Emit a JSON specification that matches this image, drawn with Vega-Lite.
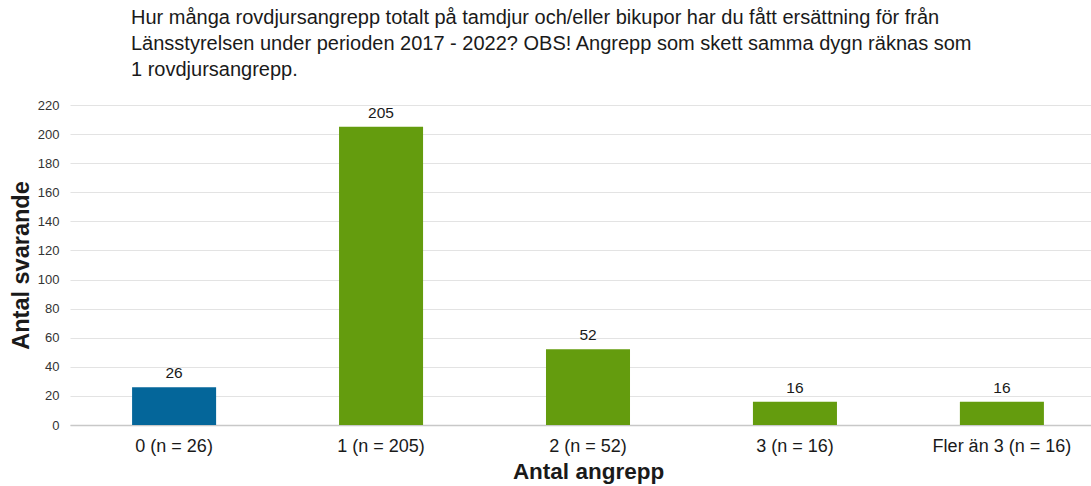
{
  "$schema": "https://vega.github.io/schema/vega-lite/v6.json",
  "autosize": {"type": "none"},
  "padding": {"left": 70, "top": 105, "right": 0, "bottom": 61},
  "width": 1036,
  "height": 320,
  "background": "white",
  "config": {"view": {"stroke": null}, "font": "Liberation Sans"},
  "title": {
    "text": [
      "Hur många rovdjursangrepp totalt på tamdjur och/eller bikupor har du fått ersättning för från",
      "Länsstyrelsen under perioden 2017 - 2022? OBS! Angrepp som skett samma dygn räknas som",
      "1 rovdjursangrepp."
    ],
    "anchor": "start",
    "frame": "group",
    "dx": 61,
    "offset": 19,
    "fontSize": 20,
    "lineHeight": 26,
    "fontWeight": "normal",
    "color": "#1a1a1a",
    "font": "Liberation Sans"
  },
  "data": {
    "values": [
      {"kategori": "0 (n = 26)", "antal": 26, "grupp": "a"},
      {"kategori": "1 (n = 205)", "antal": 205, "grupp": "b"},
      {"kategori": "2 (n = 52)", "antal": 52, "grupp": "b"},
      {"kategori": "3 (n = 16)", "antal": 16, "grupp": "b"},
      {"kategori": "Fler än 3 (n = 16)", "antal": 16, "grupp": "b"}
    ]
  },
  "encoding": {
    "x": {
      "field": "kategori",
      "type": "nominal",
      "sort": null,
      "scale": {"paddingInner": 0.594, "paddingOuter": 0.3},
      "axis": {
        "title": "Antal angrepp",
        "titleFontSize": 22.5,
        "titleFontWeight": "bold",
        "titleColor": "#1a1a1a",
        "titlePadding": 5,
        "labelAngle": 0,
        "labelFontSize": 18,
        "labelColor": "#1a1a1a",
        "labelPadding": 12,
        "ticks": false,
        "domainColor": "#c8c8c8",
        "domainWidth": 1.5,
        "grid": false
      }
    },
    "y": {
      "field": "antal",
      "type": "quantitative",
      "scale": {"domain": [0, 220]},
      "axis": {
        "title": "Antal svarande",
        "titleFontSize": 23.5,
        "titleFontWeight": "bold",
        "titleColor": "#1a1a1a",
        "titlePadding": 4,
        "values": [0, 20, 40, 60, 80, 100, 120, 140, 160, 180, 200, 220],
        "labelFontSize": 13,
        "labelColor": "#333333",
        "labelPadding": 11,
        "ticks": false,
        "domain": false,
        "gridColor": "#e3e3e3",
        "gridWidth": 1
      }
    }
  },
  "layer": [
    {
      "mark": {"type": "bar"},
      "encoding": {
        "color": {
          "field": "grupp",
          "type": "nominal",
          "scale": {"domain": ["a", "b"], "range": ["#04669a", "#649c0e"]},
          "legend": null
        }
      }
    },
    {
      "mark": {"type": "text", "baseline": "bottom", "dy": -6, "fontSize": 15.5, "color": "#1a1a1a"},
      "encoding": {"text": {"field": "antal", "type": "quantitative"}}
    }
  ]
}
